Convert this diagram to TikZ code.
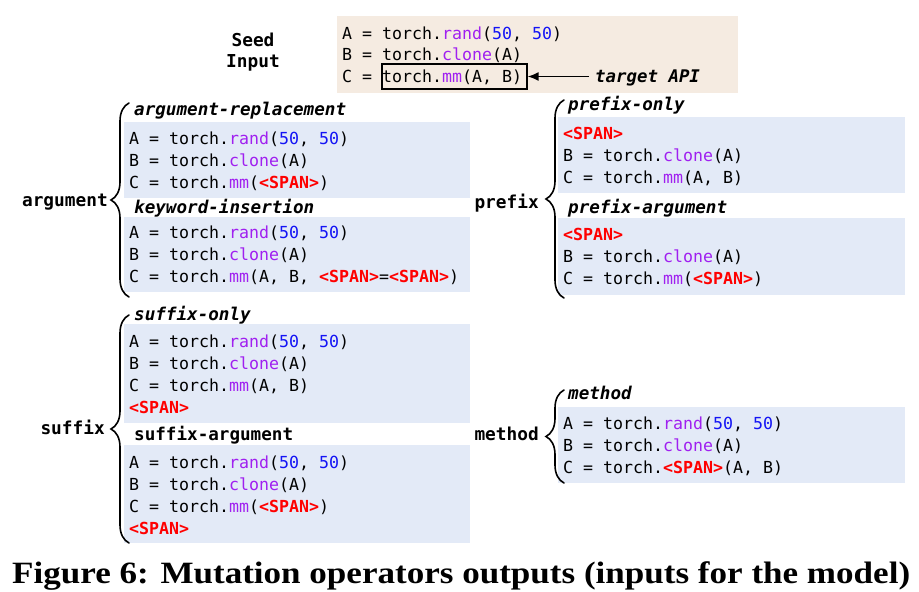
\documentclass[tikz,border=0pt]{standalone}
\usepackage{fontspec}
\usepackage{graphicx}
\setmainfont{Liberation Serif}
\setmonofont{DejaVu Sans Mono}
\usetikzlibrary{decorations.pathreplacing,arrows.meta}
\definecolor{fpurple}{HTML}{A020F0}
\definecolor{nblue}{HTML}{1414F5}
\definecolor{spanred}{HTML}{FF0000}
\definecolor{boxblue}{HTML}{E3EAF7}
\definecolor{seedbg}{HTML}{F5EBE1}
\newcommand{\fnc}[1]{\textcolor{fpurple}{#1}}
\newcommand{\nmb}[1]{\textcolor{nblue}{#1}}
\newcommand{\spn}{\textcolor{spanred}{\bfseries<SPAN>}}
\tikzset{
  codeline/.style={anchor=base west, inner sep=0pt, font=\fontsize{16.6}{20}\selectfont\ttfamily},
  hdr/.style={anchor=base west, inner sep=0pt, font=\fontsize{17.6}{20}\selectfont\ttfamily\bfseries\itshape},
  hdrup/.style={anchor=base west, inner sep=0pt, font=\fontsize{17.6}{20}\selectfont\ttfamily\bfseries},
  grp/.style={anchor=base east, inner sep=0pt, font=\fontsize{17.8}{20}\selectfont\ttfamily\bfseries},
  bluebox/.style={anchor=north west, fill=boxblue, draw=none, inner sep=0pt},
  brc/.style={decorate, decoration={brace, amplitude=18pt}, line width=1.6pt, line cap=round},
}
\begin{document}
\begin{tikzpicture}[x=1pt,y=-1pt]
\useasboundingbox (0,0) rectangle (919,592);
% seed
\node[anchor=north west, fill=seedbg, minimum width=401, minimum height=77, inner sep=0pt] (seed) at (337,16) {};
\node[anchor=base, inner sep=0pt, font=\fontsize{17.8}{20}\selectfont\ttfamily\bfseries] (seedl) at (253,46) {Seed};
\node[anchor=base, inner sep=0pt, font=\fontsize{17.8}{20}\selectfont\ttfamily\bfseries] (inputl) at (253,67) {Input};
\node[codeline] (s1) at (342,39) {A = torch.\fnc{rand}(\nmb{50}, \nmb{50})};
\node[codeline] (s2) at (342,60) {B = torch.\fnc{clone}(A)};
\node[codeline] (s3) at (342,82) {C = torch.\fnc{mm}(A, B)};
\node[draw, line width=1.3pt, minimum width=145, minimum height=25, inner sep=0pt] (tgt) at (454.5,76.5) {};
\node[anchor=base west, inner sep=0pt, font=\fontsize{17.4}{20}\selectfont\ttfamily\bfseries\itshape] (tapi) at (595,82) {target API};
\draw[line width=1.5pt, -{Latex[length=11pt,width=9pt]}] (tapi.west |- tgt.east) ++(-6,0) coordinate (tstart) -- (tgt.east);

% argument group
\node[bluebox, minimum width=346, minimum height=76] (b1) at (124,122) {};
\node[bluebox, minimum width=346, minimum height=75] (b2) at (124,217) {};
\node[hdr] (h1) at (134,115) {argument-replacement};
\node[codeline] at (129,144) {A = torch.\fnc{rand}(\nmb{50}, \nmb{50})};
\node[codeline] at (129,166) {B = torch.\fnc{clone}(A)};
\node[codeline] at (129,188) {C = torch.\fnc{mm}(\spn)};
\node[hdr] (h2) at (134,213) {keyword-insertion};
\node[codeline] at (129,238) {A = torch.\fnc{rand}(\nmb{50}, \nmb{50})};
\node[codeline] at (129,260) {B = torch.\fnc{clone}(A)};
\node[codeline] at (129,282) {C = torch.\fnc{mm}(A, B, \spn=\spn)};
\coordinate (argT) at (129,103);
\coordinate (argB) at (129,297);
\draw[brc] (argB) -- (argT);
\node[grp] (argl) at (108,206) {argument};

% prefix group
\node[bluebox, minimum width=347, minimum height=76] (b3) at (558,117) {};
\node[bluebox, minimum width=347, minimum height=77] (b4) at (558,218) {};
\node[hdr] (h3) at (568,110) {prefix-only};
\node[codeline] at (563,139) {\spn};
\node[codeline] at (563,161) {B = torch.\fnc{clone}(A)};
\node[codeline] at (563,183) {C = torch.\fnc{mm}(A, B)};
\node[hdr] (h4) at (568,213) {prefix-argument};
\node[codeline] at (563,240) {\spn};
\node[codeline] at (563,262) {B = torch.\fnc{clone}(A)};
\node[codeline] at (563,284) {C = torch.\fnc{mm}(\spn)};
\coordinate (preT) at (564,100);
\coordinate (preB) at (564,298);
\draw[brc] (preB) -- (preT);
\node[grp] (prel) at (539,208) {prefix};

% suffix group
\node[bluebox, minimum width=346, minimum height=99] (b5) at (124,324) {};
\node[bluebox, minimum width=346, minimum height=98] (b6) at (124,445) {};
\node[hdr] (h5) at (134,320) {suffix-only};
\node[codeline] at (129,347) {A = torch.\fnc{rand}(\nmb{50}, \nmb{50})};
\node[codeline] at (129,369) {B = torch.\fnc{clone}(A)};
\node[codeline] at (129,391) {C = torch.\fnc{mm}(A, B)};
\node[codeline] at (129,413) {\spn};
\node[hdrup] (h6) at (134,440) {suffix-argument};
\node[codeline] at (129,468) {A = torch.\fnc{rand}(\nmb{50}, \nmb{50})};
\node[codeline] at (129,490) {B = torch.\fnc{clone}(A)};
\node[codeline] at (129,512) {C = torch.\fnc{mm}(\spn)};
\node[codeline] at (129,534) {\spn};
\coordinate (sufT) at (129,315);
\coordinate (sufB) at (129,543);
\draw[brc] (sufB) -- (sufT);
\node[grp] (sufl) at (105,434) {suffix};

% method group
\node[bluebox, minimum width=347, minimum height=76] (b7) at (558,407) {};
\node[hdr] (h7) at (568,399) {method};
\node[codeline] at (563,429) {A = torch.\fnc{rand}(\nmb{50}, \nmb{50})};
\node[codeline] at (563,451) {B = torch.\fnc{clone}(A)};
\node[codeline] at (563,473) {C = torch.\spn(A, B)};
\coordinate (metT) at (564,390);
\coordinate (metB) at (564,483);
\draw[brc] (metB) -- (metT);
\node[grp] (metl) at (539,440) {method};

% caption
\node[anchor=base west, inner sep=0pt, font=\fontsize{31}{34}\selectfont\bfseries] (cap) at (12,583) {\resizebox{898pt}{\height}{Figure 6: Mutation operators outputs (inputs for the model)}};
\end{tikzpicture}
\end{document}
